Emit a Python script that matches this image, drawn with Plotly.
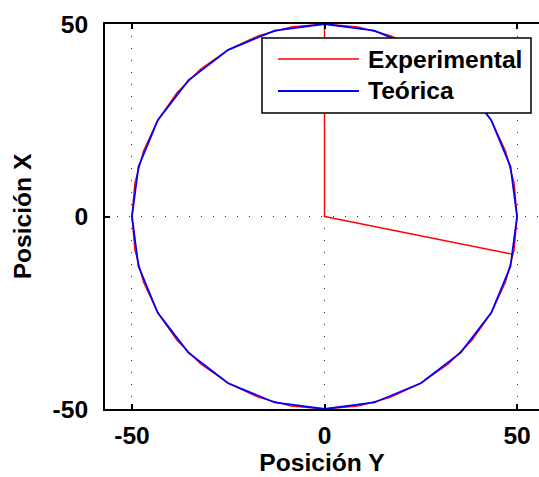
import plotly.graph_objects as go

# Experimental path (Posición Y, Posición X): origin -> top -> full circle clockwise -> extra arc -> origin
exp_y = [0, 0, 8.68, 17.10, 25.00, 32.14, 38.30, 43.30, 46.98, 49.24, 50.00,
         49.24, 46.98, 43.30, 38.30, 32.14, 25.00, 17.10, 8.68, 0.00,
         -8.68, -17.10, -25.00, -32.14, -38.30, -43.30, -46.98, -49.24, -50.00,
         -49.24, -46.98, -43.30, -38.30, -32.14, -25.00, -17.10, -8.68, 0.00,
         8.68, 17.10, 25.00, 32.14, 38.30, 43.30, 46.98, 49.24, 50.00, 49.24, 48.8, 0]
exp_x = [0, 50.00, 49.24, 46.98, 43.30, 38.30, 32.14, 25.00, 17.10, 8.68, 0.00,
         -8.68, -17.10, -25.00, -32.14, -38.30, -43.30, -46.98, -49.24, -50.00,
         -49.24, -46.98, -43.30, -38.30, -32.14, -25.00, -17.10, -8.68, 0.00,
         8.68, 17.10, 25.00, 32.14, 38.30, 43.30, 46.98, 49.24, 50.00,
         49.24, 46.98, 43.30, 38.30, 32.14, 25.00, 17.10, 8.68, 0.00, -8.68, -9.8, 0]

# Theoretical polygon (24 segments)
teo_y = [50.00, 48.30, 43.30, 35.36, 25.00, 12.94, 0.00, -12.94, -25.00, -35.36, -43.30, -48.30,
         -50.00, -48.30, -43.30, -35.36, -25.00, -12.94, 0.00, 12.94, 25.00, 35.36, 43.30, 48.30, 50.00]
teo_x = [0.00, 12.94, 25.00, 35.36, 43.30, 48.30, 50.00, 48.30, 43.30, 35.36, 25.00, 12.94,
         0.00, -12.94, -25.00, -35.36, -43.30, -48.30, -50.00, -48.30, -43.30, -35.36, -25.00, -12.94, 0.00]

names = ["Experimental", "Teórica"]
colors = ["#FF0000", "#0000FF"]
tick_vals = [-50, 0, 50]
tick_text = ["-50", "0", "50"]

FONT = dict(family="Liberation Sans, Arial, sans-serif", size=24.6, color="black", weight="bold")

fig = go.Figure()
fig.add_trace(go.Scatter(x=exp_y, y=exp_x, mode="lines", name=names[0],
                         line=dict(color=colors[0], width=1.4), showlegend=False))
fig.add_trace(go.Scatter(x=teo_y, y=teo_x, mode="lines", name=names[1],
                         line=dict(color=colors[1], width=1.8), showlegend=False))

W, H = 539, 477
L, R, T, B = 105, 0, 24, 68
pw, ph = W - L - R, H - T - B

def px(x):
    return (x - L) / pw

def py(y):
    return (H - B - y) / ph

# custom legend box
fig.add_shape(type="rect", xref="paper", yref="paper",
              x0=px(262), x1=px(531), y0=py(113), y1=py(38),
              line=dict(color="black", width=1.5), fillcolor="white", layer="above")
for i, yy in enumerate([59, 91]):
    fig.add_shape(type="line", xref="paper", yref="paper",
                  x0=px(278), x1=px(359), y0=py(yy), y1=py(yy),
                  line=dict(color=colors[i], width=1.4 if i == 0 else 1.8), layer="above")
    fig.add_annotation(xref="paper", yref="paper", x=px(366), y=py(yy),
                       text=names[i], showarrow=False, xanchor="left", yanchor="middle",
                       font=FONT)

axis_common = dict(
    tickvals=tick_vals, ticktext=tick_text, ticks="inside", ticklen=5, tickwidth=1.5,
    tickcolor="black", showline=True, linecolor="black", linewidth=2,
    showgrid=True, gridcolor="#333333", gridwidth=1, griddash="1px,11px",
    zeroline=False, tickfont=FONT,
)

fig.update_xaxes(range=[-57.0, 55.7], mirror="ticks", ticklabelstandoff=3,
                 title=dict(text="Posición Y", font=FONT, standoff=5), **axis_common)
fig.update_yaxes(range=[-50, 50], mirror=False, ticklabelstandoff=10,
                 title=dict(text="Posición X", font=FONT, standoff=14), **axis_common)

fig.update_layout(width=W, height=H, margin=dict(l=L, r=R, t=T, b=B),
                  plot_bgcolor="white", paper_bgcolor="white", showlegend=False)

fig.write_html("out.html")
